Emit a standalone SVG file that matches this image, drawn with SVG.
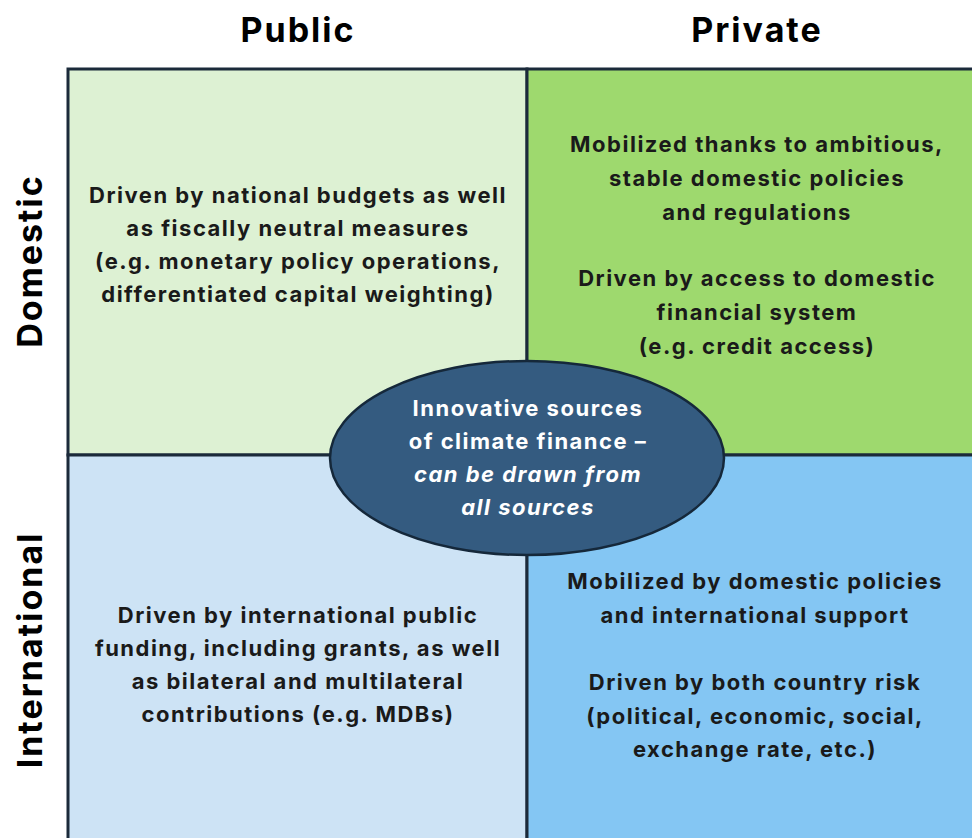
<svg xmlns="http://www.w3.org/2000/svg" width="972" height="838" viewBox="0 0 972 838">
  <style>
    .hdr { font-family: Inter, "Open Sans", "Liberation Sans", Arial, sans-serif; font-weight: bold; font-size: 34px; letter-spacing: 2px; fill: #000; text-anchor: middle; }
    .body { font-family: Inter, "Open Sans", "Liberation Sans", Arial, sans-serif; font-weight: bold; font-size: 22px; letter-spacing: 1.5px; fill: #1a1a1a; text-anchor: middle; }
    .oval { font-family: Inter, "Open Sans", "Liberation Sans", Arial, sans-serif; font-weight: bold; font-size: 22px; letter-spacing: 1.5px; fill: #ffffff; text-anchor: middle; }
    .cell { stroke: #1b2a3a; stroke-width: 3; }
  </style>
  <rect width="972" height="838" fill="#ffffff"/>

  <!-- column and row headers -->
  <g id="headers">
    <text class="hdr" x="298" y="42">Public</text>
    <text class="hdr" x="757" y="42">Private</text>
    <text class="hdr" transform="translate(42,261) rotate(-90)">Domestic</text>
    <text class="hdr" transform="translate(42,650) rotate(-90)">International</text>
  </g>

  <!-- quadrants -->
  <g id="public-domestic">
    <rect class="cell" x="68" y="69" width="459" height="386" fill="#ddf1d3"/>
    <text class="body" x="298" y="203">Driven by national budgets as well</text>
    <text class="body" x="298" y="236">as fiscally neutral measures</text>
    <text class="body" x="298" y="269">(e.g. monetary policy operations,</text>
    <text class="body" x="298" y="302">differentiated capital weighting)</text>
  </g>
  <g id="private-domestic">
    <rect class="cell" x="527" y="69" width="460" height="386" fill="#9ed96e"/>
    <text class="body" x="757" y="152">Mobilized thanks to ambitious,</text>
    <text class="body" x="757" y="186">stable domestic policies</text>
    <text class="body" x="757" y="220">and regulations</text>
    <text class="body" x="757" y="286">Driven by access to domestic</text>
    <text class="body" x="757" y="320">financial system</text>
    <text class="body" x="757" y="354">(e.g. credit access)</text>
  </g>
  <g id="public-international">
    <rect class="cell" x="68" y="455" width="459" height="400" fill="#cde3f5"/>
    <text class="body" x="298" y="623">Driven by international public</text>
    <text class="body" x="298" y="656">funding, including grants, as well</text>
    <text class="body" x="298" y="689">as bilateral and multilateral</text>
    <text class="body" x="298" y="722">contributions (e.g. MDBs)</text>
  </g>
  <g id="private-international">
    <rect class="cell" x="527" y="455" width="460" height="400" fill="#84c6f3"/>
    <text class="body" x="755" y="589">Mobilized by domestic policies</text>
    <text class="body" x="755" y="623">and international support</text>
    <text class="body" x="755" y="690">Driven by both country risk</text>
    <text class="body" x="755" y="724">(political, economic, social,</text>
    <text class="body" x="755" y="757">exchange rate, etc.)</text>
  </g>

  <!-- central oval -->
  <g id="innovative-sources">
    <ellipse cx="527" cy="458" rx="197" ry="97" fill="#345b80" stroke="#15283a" stroke-width="2.5"/>
    <text class="oval" x="528" y="416">Innovative sources</text>
    <text class="oval" x="528" y="449">of climate finance –</text>
    <text class="oval" x="528" y="482" font-style="italic">can be drawn from</text>
    <text class="oval" x="528" y="515" font-style="italic">all sources</text>
  </g>
</svg>
